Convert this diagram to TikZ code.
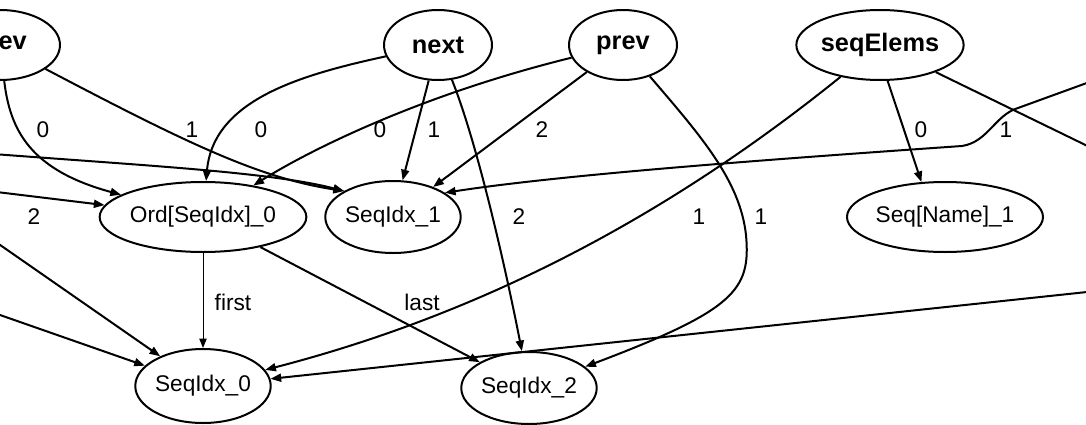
\documentclass[tikz,border=0pt]{standalone}
\usepackage{fontspec}
\setmainfont{Liberation Sans}
\usetikzlibrary{shapes.geometric,arrows.meta}
\tikzstyle{bn}=[ellipse,draw=black,line width=1.5pt,inner sep=0pt,
  minimum width=81pt,minimum height=52.5pt,font=\fontsize{19}{22}\selectfont\bfseries]
\tikzstyle{pn}=[ellipse,draw=black,line width=1.5pt,inner sep=0pt,
  minimum width=98pt,minimum height=54pt,font=\fontsize{17}{20}\selectfont]
\tikzstyle{lbl}=[inner sep=0pt,font=\fontsize{17}{20}\selectfont]
\tikzstyle{none}=[inner sep=0pt,minimum size=0pt]
\tikzstyle{edge}=[line width=1.5pt,-{Triangle[length=8pt,width=6pt]}]
\tikzstyle{thinedge}=[line width=0.75pt,-{Triangle[length=7pt,width=5.5pt]}]

\begin{document}
\begin{tikzpicture}[x=0.75pt, y=-0.75pt]
    \useasboundingbox (0,0) rectangle (1086,425);
    \clip (0,0) rectangle (1086,425);
    \node [style=bn, minimum width=90pt] (0) at (0, 45) {prev};
    \node [style=bn] (1) at (438, 45) {next};
    \node [style=bn] (2) at (623, 45) {prev};
    \node [style=bn, minimum width=99pt] (3) at (880, 45) {seqElems};
    \node [style=pn, minimum width=135pt, minimum height=52.5pt] (4) at (203, 217) {Ord[SeqIdx]\_0};
    \node [style=pn] (5) at (393, 217) {SeqIdx\_1};
    \node [style=pn, minimum width=127.5pt, minimum height=52.5pt] (6) at (945, 217) {Seq[Name]\_1};
    \node [style=pn, minimum height=55.5pt] (7) at (203, 386) {SeqIdx\_0};
    \node [style=pn] (8) at (529, 388) {SeqIdx\_2};
    \node [style=none] (9) at (-20, 153) {};
    \node [style=none] (10) at (-20, 190) {};
    \node [style=none] (11) at (-20, 231) {};
    \node [style=none] (12) at (-20, 308) {};
    \node [style=none] (13) at (1106, 290) {};
    \node [style=none] (14) at (1106, 76) {};
    \node [style=none] (15) at (1106, 155) {};
    \node [style=lbl] (16) at (43, 130) {0};
    \node [style=lbl] (17) at (192, 130) {1};
    \node [style=lbl] (18) at (261, 130) {0};
    \node [style=lbl] (19) at (380, 130) {0};
    \node [style=lbl] (20) at (434, 130) {1};
    \node [style=lbl] (21) at (542, 130) {2};
    \node [style=lbl] (22) at (921, 130) {0};
    \node [style=lbl] (23) at (1006, 130) {1};
    \node [style=lbl] (24) at (34, 217) {2};
    \node [style=lbl] (25) at (519, 217) {2};
    \node [style=lbl] (26) at (699, 217) {1};
    \node [style=lbl] (27) at (761, 217) {1};
    \node [style=lbl] (28) at (233, 302) {first};
    \node [style=lbl] (29) at (422, 302) {last};
    \draw [style=edge] (0) .. controls (10, 130) and (30, 170) .. (4);
    \draw [style=edge] (0) .. controls (190, 145) and (260, 178) .. (5.152);
    \draw [style=edge] (9.center) .. controls (150, 166) and (270, 172) .. (5.152);
    \draw [style=edge] (10.center) to (4);
    \draw [style=edge] (1) .. controls (300, 75) and (213, 100) .. (4);
    \draw [style=edge] (2) .. controls (420, 95) and (310, 150) .. (4);
    \draw [style=edge] (1) to (5);
    \draw [style=edge] (2) to (5);
    \draw [style=edge] (14.center) -- (1018, 108) .. controls (995, 115) and (988, 142) .. (962, 146)
        .. controls (760, 160) and (560, 175) .. (5.25);
    \draw [style=edge] (1) .. controls (480, 150) and (510, 290) .. (8);
    \draw [style=edge] (2) .. controls (700, 135) and (740, 180) .. (746, 235)
        .. controls (751, 290) and (735, 310) .. (8);
    \draw [style=edge] (3) .. controls (647, 233) and (458, 320) .. (7);
    \draw [style=edge] (3.-78) to (6.124);
    \draw [style=edge] (3) to (15.center);
    \draw [style=thinedge] (4) to (7);
    \draw [style=edge] (4) to (8);
    \draw [style=edge] (11.center) to (7);
    \draw [style=edge] (12.center) to (7);
    \draw [style=edge] (13.center) to (7);
\end{tikzpicture}
\end{document}
